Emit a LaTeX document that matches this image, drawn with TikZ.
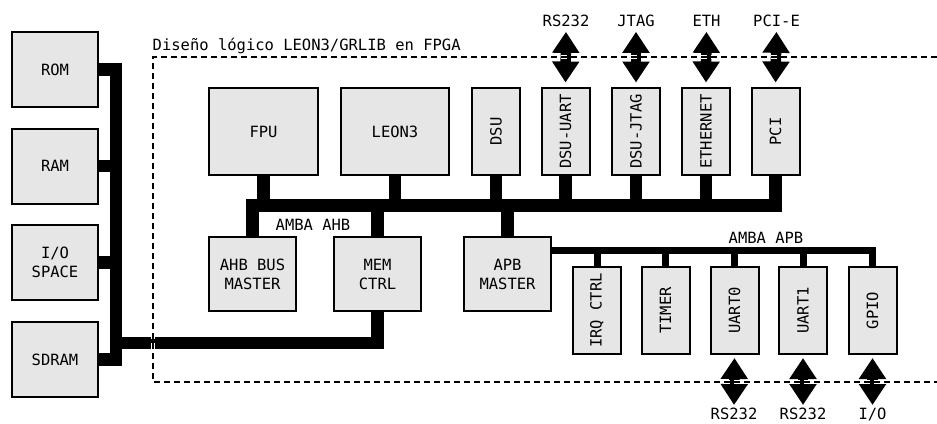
\documentclass[tikz,border=0pt]{standalone}
\usepackage{fontspec}
\newfontfamily\dmono{DejaVu Sans Mono}
\usetikzlibrary{arrows.meta}
\definecolor{boxgray}{HTML}{E6E6E6}
\begin{document}
\begin{tikzpicture}[x=1pt,y=-1pt,
  font=\dmono\fontsize{15.5}{19}\selectfont,
  blk/.style={draw=black,line width=2pt,fill=boxgray,inner sep=0pt,align=center},
  memblk/.style={blk,minimum width=86,minimum height=75},
  bigblk/.style={blk,minimum width=108,minimum height=87},
  midblk/.style={blk,minimum width=87,minimum height=74},
  slim/.style={blk,minimum width=48,minimum height=87},
  lbl/.style={inner sep=0pt,text height=11.3pt,text depth=0pt},
  bus/.style={draw=black,line width=12.5pt,line join=miter,line cap=butt},
  apbbus/.style={draw=black,line width=7pt,line join=miter,line cap=butt},
  bigarrow/.style={draw=black,line width=10.5pt,{Triangle[width=26pt,length=21pt]}-{Triangle[width=26pt,length=21pt]}},
  frame/.style={draw=black,line width=2pt,dash pattern=on 6pt off 4pt,
    preaction={draw=white,line width=4.5pt,dash pattern=on 6pt off 4pt}}]
\useasboundingbox[fill=white] (0,0) rectangle (937,423);

% memory blocks
\node[memblk] (rom) at (55,69.5) {ROM};
\node[memblk] (ram) at (55,166) {RAM};
\node[memblk] (io) at (55,262.5) {I/O\\SPACE};
\node[memblk] (sdram) at (55,359.5) {SDRAM};

% title
\node[anchor=base west,inner sep=0pt] (title) at (152.5,50.5) {Diseño lógico LEON3/GRLIB en FPGA};

% top row
\node[bigblk,minimum width=109] (fpu) at (263.5,131.5) {FPU};
\node[bigblk] (leon) at (395,131.5) {LEON3};
\node[slim] (dsu) at (496,131.5) {\rotatebox{90}{DSU}};
\node[slim] (dsuuart) at (565.5,131.5) {\rotatebox{90}{DSU-UART}};
\node[slim] (dsujtag) at (636,131.5) {\rotatebox{90}{DSU-JTAG}};
\node[slim] (eth) at (706,131.5) {\rotatebox{90}{ETHERNET}};
\node[slim] (pci) at (775.5,131.5) {\rotatebox{90}{PCI}};

% middle row
\node[midblk] (ahbm) at (252.5,274) {AHB BUS\\MASTER};
\node[midblk] (mem) at (377.5,274) {MEM\\CTRL};
\node[midblk] (apbm) at (507.5,274) {APB\\MASTER};

% APB peripherals
\node[slim] (irq) at (597,310.5) {\rotatebox{90}{IRQ CTRL}};
\node[slim] (timer) at (665.5,310.5) {\rotatebox{90}{TIMER}};
\node[slim] (uart0) at (734.5,310.5) {\rotatebox{90}{UART0}};
\node[slim] (uart1) at (803,310.5) {\rotatebox{90}{UART1}};
\node[slim] (gpio) at (872.5,310.5) {\rotatebox{90}{GPIO}};

% bus labels
\node (ahblbl) at (313,225) {AMBA AHB};
\node (apblbl) at (766,238) {AMBA APB};

% external labels
\node[lbl] (tRS) at (566,21) {RS232};
\node[lbl] (tJT) at (636,21) {JTAG};
\node[lbl] (tET) at (706.5,21) {ETH};
\node[lbl] (tPC) at (776.5,21) {PCI-E};
\node[lbl,anchor=north] (bRS0) at (734,408) {RS232};
\node[lbl,anchor=north] (bRS1) at (803,408) {RS232};
\node[lbl,anchor=north] (bIO) at (872.5,408) {I/O};

% coordinates
\coordinate (ahby) at (0,205.5);
\coordinate (apby) at (0,250.5);
\coordinate (memx) at (116,0);
\coordinate (memy) at (0,343);

% memory bus
\draw[bus] (rom.east) -- (memx |- rom.east) -- (memx |- sdram.east) -- (sdram.east);
\draw[bus] (ram.east) -- (memx |- ram.east);
\draw[bus] (io.east) -- (memx |- io.east);
\draw[bus] (memx |- memy) -- (mem.south |- memy) -- (mem.south);

% AHB bus
\draw[bus] (ahbm.north) -- (ahbm.north |- ahby) -- (pci.south |- ahby) -- (pci.south);
\draw[bus] (fpu.south) -- (fpu.south |- ahby);
\draw[bus] (leon.south) -- (leon.south |- ahby);
\draw[bus] (dsu.south) -- (dsu.south |- ahby);
\draw[bus] (dsuuart.south) -- (dsuuart.south |- ahby);
\draw[bus] (dsujtag.south) -- (dsujtag.south |- ahby);
\draw[bus] (eth.south) -- (eth.south |- ahby);
\draw[bus] (mem.north) -- (mem.north |- ahby);
\draw[bus] (apbm.north) -- (apbm.north |- ahby);

% APB bus
\draw[apbbus] (apbm.east |- apby) -- (gpio.north |- apby) -- (gpio.north);
\draw[apbbus] (irq.north) -- (irq.north |- apby);
\draw[apbbus] (timer.north) -- (timer.north |- apby);
\draw[apbbus] (uart0.north) -- (uart0.north |- apby);
\draw[apbbus] (uart1.north) -- (uart1.north |- apby);

% external arrows
\draw[bigarrow,shorten <=5pt,shorten >=4.5pt] (tRS.south) -- (dsuuart.north);
\draw[bigarrow,shorten <=5pt,shorten >=4.5pt] (tJT.south) -- (dsujtag.north);
\draw[bigarrow,shorten <=5pt,shorten >=4.5pt] (tET.south) -- (eth.north);
\draw[bigarrow,shorten <=5pt,shorten >=4.5pt] (tPC.south) -- (pci.north);
\draw[bigarrow,shorten <=3pt,shorten >=3pt] (uart0.south) -- (bRS0.north);
\draw[bigarrow,shorten <=3pt,shorten >=3pt] (uart1.south) -- (bRS1.north);
\draw[bigarrow,shorten <=3pt,shorten >=3pt] (gpio.south) -- (bIO.north);

% FPGA frame
\coordinate (ftr) at (937,57);
\coordinate (ftl) at (153,57);
\coordinate (fbl) at (153,382);
\coordinate (fbr) at (937,382);
\draw[frame] (ftr) -- (ftl) -- (fbl) -- (fbr);
\end{tikzpicture}
\end{document}
